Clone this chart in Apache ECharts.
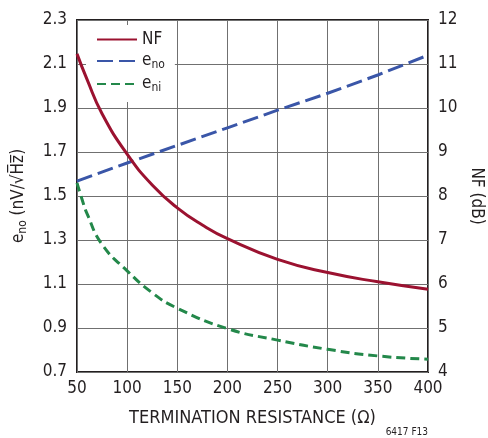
<!DOCTYPE html>
<html>
<head>
<meta charset="utf-8">
<script src="https://cdn.jsdelivr.net/npm/echarts@6/dist/echarts.min.js"></script>
<style>
html,body{margin:0;padding:0;background:#fff;}
#c{width:488px;height:438px;}
</style>
</head>
<body>
<div id="c"></div>
<script>
// Termination resistance (ohms) sample points
var resistanceNF = [50, 60, 75, 100, 125, 150, 175, 200, 250, 300, 350, 400];
var nfDb = [11.23, 10.65, 9.87, 8.95, 8.25, 7.73, 7.34, 7.03, 6.56, 6.26, 6.05, 5.88];

var resistanceEno = [50, 100, 150, 200, 250, 300, 350, 400];
var enoValues = [1.568, 1.65, 1.73, 1.81, 1.89, 1.967, 2.05, 2.14];

var resistanceEni = [50, 55, 60, 75, 100, 125, 150, 200, 250, 300, 350, 400];
var eniValues = [1.56, 1.485, 1.42, 1.28, 1.16, 1.06, 0.99, 0.897, 0.845, 0.803, 0.773, 0.758];

var xTicks = [50, 100, 150, 200, 250, 300, 350, 400];
var leftTicks = [0.7, 0.9, 1.1, 1.3, 1.5, 1.7, 1.9, 2.1, 2.3];
var rightTicks = [4, 5, 6, 7, 8, 9, 10, 11, 12];

function pairs(xs, ys) { return xs.map(function (x, i) { return [x, ys[i]]; }); }

var FONT = '"Liberation Sans Narrow", "DejaVu Sans Condensed", Arial, sans-serif';
var TXT = '#231f20';

var chart = echarts.init(document.getElementById('c'), null, {renderer: 'canvas'});
chart.setOption({
  animation: false,
  backgroundColor: '#fff',
  textStyle: {fontFamily: FONT, color: TXT},
  grid: {left: 77, right: 60, top: 20, bottom: 66, containLabel: false, outerBoundsMode: 'none',
    show: true, borderColor: '#231f20', borderWidth: 2, backgroundColor: 'transparent'},
  legend: {
    left: 86, top: 25,
    orient: 'vertical',
    backgroundColor: '#fff',
    padding: [6, 10, 8, 10],
    itemWidth: 40, itemHeight: 14, itemGap: 3,
    itemStyle: {opacity: 0},
    data: ['NF', 'eno', 'eni'],
    formatter: function (n) {
      if (n === 'NF') return '{b|NF}';
      return '{b|e}{s|' + n.slice(1) + '}';
    },
    textStyle: {
      fontFamily: FONT, color: TXT, fontSize: 17,
      rich: {
        b: {fontFamily: FONT, fontSize: 17, color: TXT, lineHeight: 18},
        s: {fontFamily: FONT, fontSize: 12, color: TXT, lineHeight: 18, padding: [8, 0, 0, 0]}
      }
    }
  },
  xAxis: {
    type: 'value', min: 50, max: 400, interval: 50,
    name: 'TERMINATION RESISTANCE (Ω)', nameLocation: 'middle', nameGap: 37,
    nameTextStyle: {fontFamily: FONT, fontSize: 18, color: TXT},
    axisLine: {show: false}, axisTick: {show: false},
    axisLabel: {fontFamily: FONT, fontSize: 17, color: TXT, margin: 8,
      formatter: function (v) { return xTicks.indexOf(v) >= 0 ? String(v) : ''; }},
    splitLine: {show: true, lineStyle: {color: '#707070', width: 1}}
  },
  yAxis: [{
    type: 'value', min: 0.7, max: 2.3, interval: 0.2, position: 'left',
    name: '{b|e}{s|no}{b| (nV/√H\u0305z\u0305)}', nameLocation: 'middle', nameGap: 48, nameRotate: 90,
    nameTextStyle: {fontFamily: FONT, fontSize: 17, color: TXT,
      rich: {
        b: {fontFamily: FONT, fontSize: 17, color: TXT, lineHeight: 20},
        s: {fontFamily: FONT, fontSize: 12, color: TXT, lineHeight: 20, padding: [8, 0, 0, 0]}
      }},
    axisLine: {show: false}, axisTick: {show: false},
    axisLabel: {fontFamily: FONT, fontSize: 17, color: TXT, margin: 10,
      formatter: function (v) {
        var s = v.toFixed(1);
        return leftTicks.map(function (t) { return t.toFixed(1); }).indexOf(s) >= 0 ? s : '';
      }},
    splitLine: {show: true, lineStyle: {color: '#707070', width: 1}}
  }, {
    type: 'value', min: 4, max: 12, interval: 1, position: 'right',
    name: 'NF (dB)', nameLocation: 'middle', nameGap: 38, nameRotate: -90,
    nameTextStyle: {fontFamily: FONT, fontSize: 17, color: TXT},
    axisLine: {show: false}, axisTick: {show: false},
    axisLabel: {fontFamily: FONT, fontSize: 17, color: TXT, margin: 10,
      formatter: function (v) { return rightTicks.indexOf(v) >= 0 ? String(v) : ''; }},
    splitLine: {show: false}
  }],
  series: [{
    name: 'NF', type: 'line', yAxisIndex: 1, smooth: 0.5, symbol: 'none',
    data: pairs(resistanceNF, nfDb),
    lineStyle: {color: '#9b1230', width: 3},
    itemStyle: {color: '#9b1230'},
    z: 5
  }, {
    name: 'eno', type: 'line', yAxisIndex: 0, smooth: false, symbol: 'none',
    data: pairs(resistanceEno, enoValues),
    lineStyle: {color: '#3a56a8', width: 3, type: [16, 6]},
    itemStyle: {color: '#3a56a8'},
    z: 4
  }, {
    name: 'eni', type: 'line', yAxisIndex: 0, smooth: 0.5, symbol: 'none',
    data: pairs(resistanceEni, eniValues),
    lineStyle: {color: '#23884a', width: 3, type: [9, 5]},
    itemStyle: {color: '#23884a'},
    z: 3
  }],
  graphic: [{
    type: 'text', right: 60, top: 427,
    style: {text: '6417 F13', font: '10px ' + FONT, fill: TXT}
  }]
});
</script>
</body>
</html>
